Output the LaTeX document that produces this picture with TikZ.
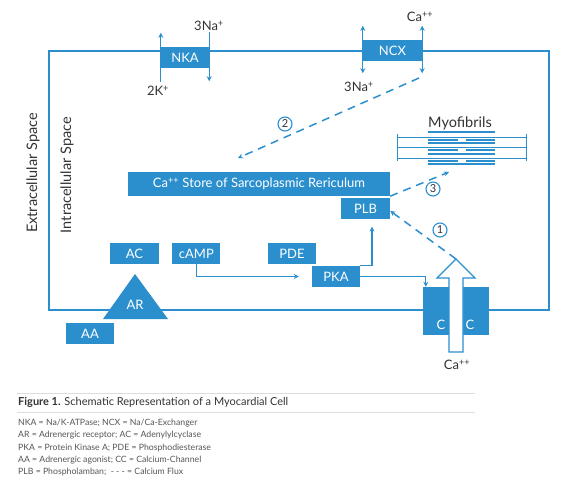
\documentclass[tikz,border=0pt]{standalone}
\usepackage{fontspec}
\setmainfont{Lato}
\usepackage{tikz}
\usetikzlibrary{arrows.meta,positioning,calc}
\definecolor{cellblue}{HTML}{2B8FCE}
\definecolor{ink}{HTML}{333333}
\definecolor{legendgray}{HTML}{555555}
\definecolor{captionrule}{HTML}{DDDDDD}
\tikzset{box/.style={fill=cellblue,text=white,inner sep=0pt,minimum width=48pt,minimum height=21pt,font=\fontsize{13}{15}\selectfont},lbl/.style={text=ink,inner sep=0pt,font=\fontsize{13}{15}\selectfont},arr/.style={-{Stealth[length=5pt,width=5pt]},line width=1.2pt,draw=cellblue},twoway/.style={arr,{Stealth[length=5pt,width=5pt]}-{Stealth[length=5pt,width=5pt]}},flux/.style={arr,dash pattern=on 8pt off 6pt,line width=1.5pt},num/.style={circle,draw=cellblue,fill=white,line width=1.1pt,inner sep=0pt,minimum size=14pt,text=ink,font=\fontsize{11}{13}\selectfont},membrane/.style={draw=cellblue,line width=1.5pt},myo/.style={draw=cellblue,line width=2pt},thin/.style={draw=cellblue,line width=.8pt}}

\begin{document}
\begin{tikzpicture}[x=1pt,y=-1pt]
\useasboundingbox (0,0) rectangle (574,499);
\draw[membrane] (49,51) rectangle (549,310);
\node[lbl,rotate=90,font=\fontsize{14.5}{16}\selectfont] (extra) at (33,173) {Extracellular Space};
\node[lbl,rotate=90,font=\fontsize{14.5}{16}\selectfont] (intra) at (67,175) {Intracellular Space};
\node[box] (nka) at (185,57.5) {NKA};
\node[box,minimum width=59pt] (ncx) at (392.5,50.5) {NCX};
\draw[arr] ([yshift=-14pt]nka.south west) -- ([yshift=14pt]nka.north west);
\draw[arr] ([yshift=15pt]nka.north east) -- ([yshift=-13pt]nka.south east);
\node[lbl] (kin) at (158,91) {2K\textsuperscript{+}};
\node[lbl] (naout) at (209,26) {3Na\textsuperscript{+}};
\draw[twoway] ([yshift=14pt]ncx.north west) -- ([yshift=-12pt]ncx.south west);
\draw[twoway] ([yshift=14pt]ncx.north east) -- ([yshift=-12pt]ncx.south east);
\node[lbl] (caext) at (420,17) {Ca\textsuperscript{++}};
\node[lbl] (nain) at (359,87) {3Na\textsuperscript{+}};
\node[box,minimum width=262pt,minimum height=24pt] (store) at (259,184) {Ca\textsuperscript{++} Store of Sarcoplasmic Rericulum};
\node[box,minimum width=49pt,below left=2pt and 0pt of store.south east] (plb) {PLB};
\node[lbl,font=\fontsize{14.5}{16}\selectfont] (myolbl) at (460,123) {Myofibrils};
\foreach \y in {132,143,153.5,164}{\draw[myo] (428,\y) -- (495,\y);}
\foreach \y in {137,147.5,158}{\draw[thin] (397,\y) -- (526,\y);
  \draw[myo] (428,\y+2.5) -- (458,\y+2.5) (466,\y+2.5) -- (495,\y+2.5);}
\draw[thin] (397,134) -- (397,161) (526,134) -- (526,161);
\node[box,minimum width=49pt] (ac) at (134.5,253.5) {AC};
\node[box,right=13pt of ac] (camp) {cAMP};
\node[box] (pde) at (292,253.5) {PDE};
\node[box] (pka) at (336,276.5) {PKA};
\node[box] (aa) at (90,333.5) {AA};
\fill[cellblue] (135,274) -- (168,319) -- (103,319) -- cycle;
\node[text=white,inner sep=0pt,font=\fontsize{13}{15}\selectfont] (ar) at (135,305) {AR};
\node[box,minimum width=66pt,minimum height=48pt] (cc) at (456,311) {};
\node[text=white,inner sep=0pt,font=\fontsize{13}{15}\selectfont] (cleft) at (441,325) {C};
\node[text=white,inner sep=0pt,font=\fontsize{13}{15}\selectfont] (cright) at (470,325) {C};
\draw[cellblue,fill=white,line width=1.2pt] (449,352) -- (449,278) -- (437,278) -- (456,259) -- (475,278) -- (463,278) -- (463,352) -- cycle;
\coordinate (catip) at (456,259);
\node[lbl] (caint) at (457,365) {Ca\textsuperscript{++}};
\draw[arr] (camp.south) |- ([xshift=-13pt]pka.west);
\draw[arr] (pka.north east) -| ([xshift=6.5pt,yshift=-7pt]plb.south);
\draw[arr] (pka.east) -| ([xshift=3pt]cc.north west);
\coordinate (ncxout) at (419,78);
\coordinate (srin) at (238,158);
\coordinate (myoin) at (449,172);
\draw[flux] (ncxout) -- (srin);
\draw[flux] (store.south east) -- (myoin);
\draw[flux] (catip) -- ([yshift=-2pt]plb.east);
\node[num] (n1) at (440,230) {1};
\node[num] (n2) at (285,124) {2};
\node[num] (n3) at (433,189) {3};
\draw[captionrule,line width=1pt] (17,393) -- (475,393) (17,412) -- (475,412);
\node[anchor=west,text=ink,inner sep=0pt,font=\fontsize{11}{13}\selectfont] (fig) at (18,402) {\textbf{Figure 1.} Schematic Representation of a Myocardial Cell};
\node[anchor=north west,align=left,text=legendgray,inner sep=0pt,font=\fontsize{8.7}{12.2}\selectfont] (legend) at (18,419) {NKA = Na/K-ATPase; NCX = Na/Ca-Exchanger\\AR = Adrenergic receptor; AC = Adenylylcyclase\\PKA = Protein Kinase A; PDE = Phosphodiesterase\\AA = Adrenergic agonist; CC = Calcium-Channel\\PLB = Phospholamban;\ \ - - - = Calcium Flux};
\end{tikzpicture}
\end{document}
